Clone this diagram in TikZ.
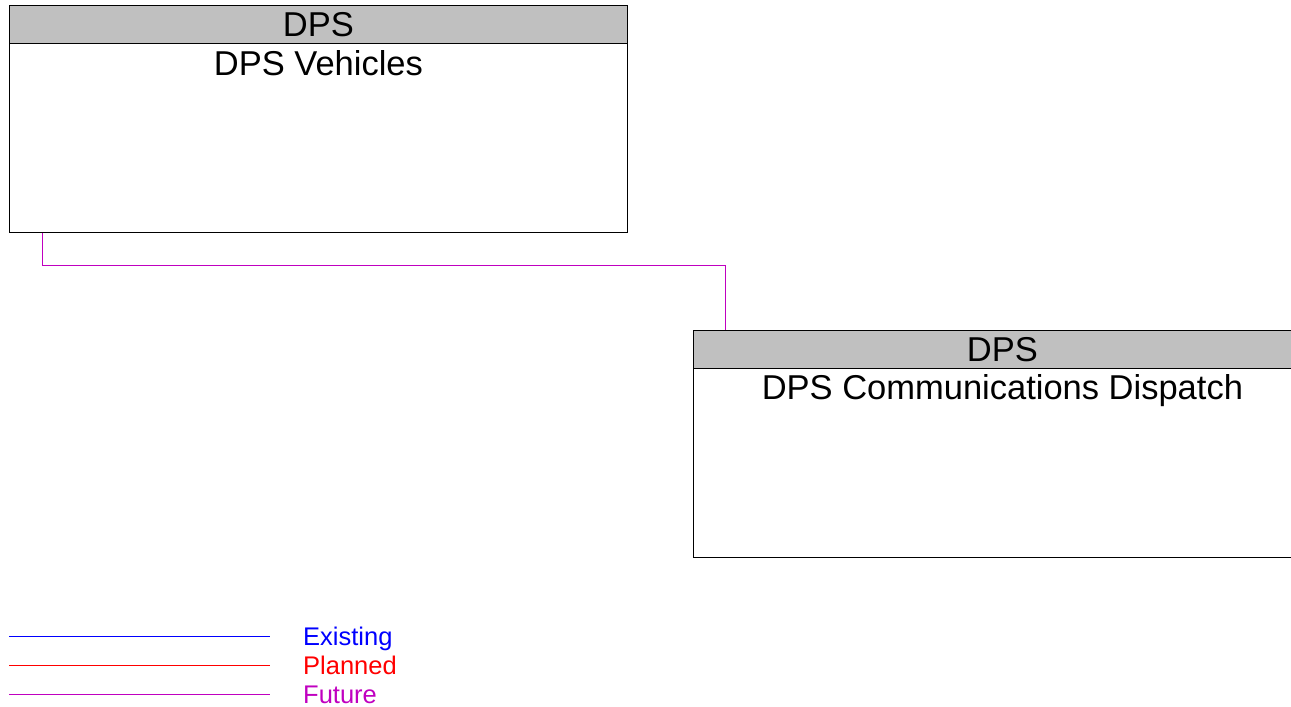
\documentclass[tikz,border=0pt]{standalone}
\usepackage{fontspec}
\setmainfont{Liberation Sans}
\usepackage{tikz}
\usetikzlibrary{positioning}
\definecolor{headG}{HTML}{C0C0C0}
\definecolor{existC}{HTML}{0000FF}
\definecolor{planC}{HTML}{FF0000}
\definecolor{futC}{HTML}{C000C0}
\tikzset{
  elem/.style={
    draw=black, fill=white, line width=0.8pt, anchor=north west,
    minimum width=618pt, minimum height=227pt, inner sep=0pt
  },
  owner/.style={
    draw=black, fill=headG, line width=0.8pt, anchor=north west,
    minimum width=618pt, minimum height=38pt, inner sep=0pt,
    font=\fontsize{34.5}{38}\selectfont
  },
  elemname/.style={anchor=base, inner sep=0pt, font=\fontsize{34.5}{38}\selectfont},
  flow/.style={draw=#1, line width=1pt},
  legline/.style={fill=#1, draw=none},
  legtext/.style={anchor=base west, inner sep=0pt, font=\fontsize{25.5}{28}\selectfont}
}

\begin{document}
\begin{tikzpicture}[x=1pt, y=-1pt]
  \clip (0,0) rectangle (1291,707);

  % elements
  \node[elem] (veh) at (9,5) {};
  \node[owner] (vehown) at (veh.north west) {DPS};
  \node[elemname] (vehname) at ([yshift=-32pt]vehown.south) {DPS Vehicles};

  \node[elem] (disp) at (693,330) {};
  \node[owner] (dispown) at (disp.north west) {DPS};
  \node[elemname] (dispname) at ([yshift=-31pt]dispown.south) {DPS Communications Dispatch};

  % flow
  \draw[flow=futC] ([xshift=33.5pt]veh.south west) -- ++(0,32.5) -| ([xshift=32.5pt]dispown.north west);

  % legend
  \coordinate (exist-a) at (9,636);
  \coordinate (exist-b) at (270,637);
  \coordinate (plan-a) at (9,665);
  \coordinate (plan-b) at (270,666);
  \coordinate (fut-a) at (9,694);
  \coordinate (fut-b) at (270,695);
  \path[legline=existC] (exist-a) rectangle (exist-b);
  \path[legline=planC] (plan-a) rectangle (plan-b);
  \path[legline=futC] (fut-a) rectangle (fut-b);
  \node[legtext, text=existC] (exist) at (303,645.5) {Existing};
  \node[legtext, text=planC] (plan) at (303,674.5) {Planned};
  \node[legtext, text=futC] (fut) at (303,703.5) {Future};
\end{tikzpicture}
\end{document}
